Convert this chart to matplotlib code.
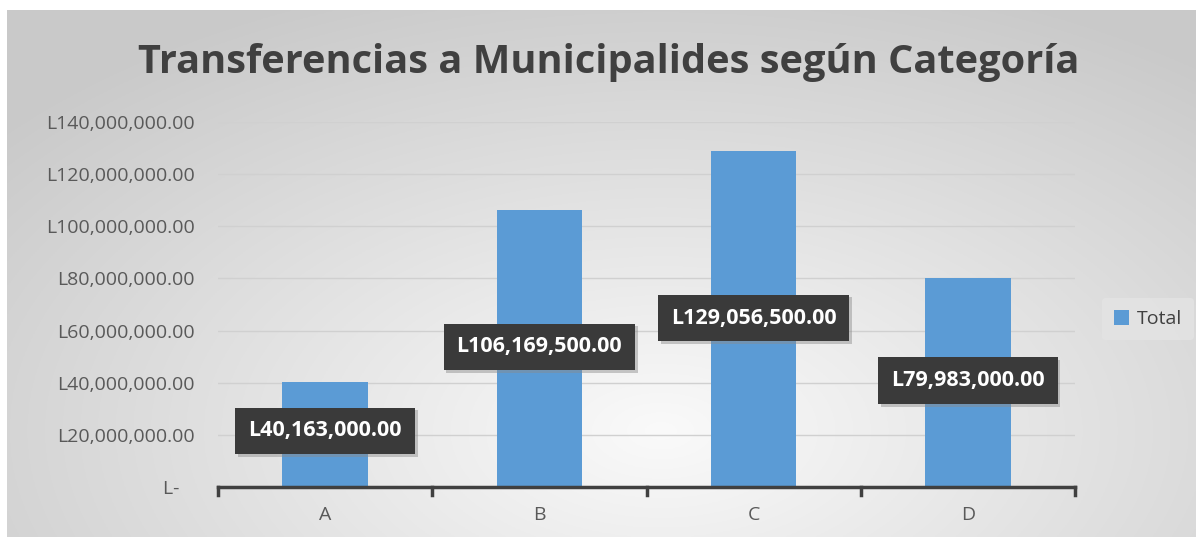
import numpy as np
import matplotlib
matplotlib.use("Agg")
import matplotlib.pyplot as plt
from matplotlib.patches import Rectangle
import matplotlib.patheffects as pe

categories = ["A", "B", "C", "D"]
values = [40163000, 106169500, 129056500, 79983000]
label_texts = ["L40,163,000.00", "L106,169,500.00", "L129,056,500.00", "L79,983,000.00"]
label_y = [21500000, 53700000, 64800000, 40700000]
yticks = [0, 20e6, 40e6, 60e6, 80e6, 100e6, 120e6, 140e6]
ytick_labels = ["L-   ", "L20,000,000.00", "L40,000,000.00", "L60,000,000.00", "L80,000,000.00",
                "L100,000,000.00", "L120,000,000.00", "L140,000,000.00"]

W, H = 1201, 537
fig = plt.figure(figsize=(W/100, H/100), dpi=100)
fig.patch.set_facecolor("white")

# background radial gradient in chart area
bg = fig.add_axes([7/W, 0, (1196-7)/W, (537-10)/H])
bg.set_axis_off()
nx, ny = 600, 270
xx, yy = np.meshgrid(np.linspace(0, 1, nx), np.linspace(0, 1, ny))
cx, cy = 0.55, 0.80
r = np.sqrt(((xx-cx)*1.0)**2 + ((yy-cy)*0.8)**2)
r = np.clip(r/0.72, 0, 1)
c_in = np.array([0.98, 0.98, 0.98])
c_out = np.array([0.79, 0.79, 0.79])
img = c_in[None, None, :]*(1-r[..., None]) + c_out[None, None, :]*r[..., None]
bg.imshow(img, origin="upper", aspect="auto", extent=[0, 1, 0, 1])
bg.set_xlim(0, 1); bg.set_ylim(0, 1)

font = ["Open Sans", "DejaVu Sans"]

ax = fig.add_axes([218/W, (H-487)/H, (1075-218)/W, (487-122)/H])
ax.patch.set_alpha(0)
x = np.arange(len(categories))
ax.bar(x, values, width=0.4, color="#5B9BD5", zorder=3, label="Total")
ax.set_xlim(-0.5, 3.5)
ax.set_ylim(0, 140e6)
ax.set_yticks(yticks)
ax.set_yticklabels(ytick_labels, fontfamily=font, fontsize=14, color="#595959")
ax.set_xticks(x)
ax.set_xticklabels(categories, fontfamily=font, fontsize=14, color="#595959")
ax.tick_params(axis="y", length=0, pad=17)
ax.tick_params(axis="x", length=0, pad=14)
ax.grid(axis="y", color="#d0d0d0", lw=1, zorder=0)
for s in ["top", "right", "left"]:
    ax.spines[s].set_visible(False)
ax.spines["bottom"].set_color("#404040")
ax.spines["bottom"].set_linewidth(2.5)
ax.spines["bottom"].set_zorder(4)
for b in [-0.5, 0.5, 1.5, 2.5, 3.5]:
    ax.plot([b, b], [0, -3e6], color="#404040", lw=2.5, clip_on=False, zorder=4)

for xi, ly, t in zip(x, label_y, label_texts):
    ax.text(xi, ly, t, ha="center", va="center", fontsize=15.5, fontweight="bold",
            color="white", fontfamily=font, zorder=6,
            bbox=dict(boxstyle="square,pad=0.6", fc="#3a3a3a", ec="none",
                      path_effects=[pe.withSimplePatchShadow(offset=(2, -2), shadow_rgbFace="#8a8a8a", alpha=0.45)]))

fig.text(0.5*(140+1078)/W, 1-62/H, "Transferencias a Municipalides según Categoría",
         ha="center", va="center", fontsize=28.6, fontweight="bold", color="#404040", fontfamily=font)

leg = fig.legend(handles=[Rectangle((0, 0), 1, 1, fc="#5B9BD5")], labels=["Total"],
                 loc="center", bbox_to_anchor=(1148/W, 1-319/H), frameon=True,
                 prop={"family": font, "size": 14}, handlelength=0.8, handleheight=0.8,
                 handletextpad=0.4, borderpad=0.6)
leg.get_frame().set_facecolor("#e4e4e4")
leg.get_frame().set_edgecolor("none")
leg.get_frame().set_alpha(0.8)
for t in leg.get_texts():
    t.set_color("#404040")

fig.savefig("out.png", dpi=100)
